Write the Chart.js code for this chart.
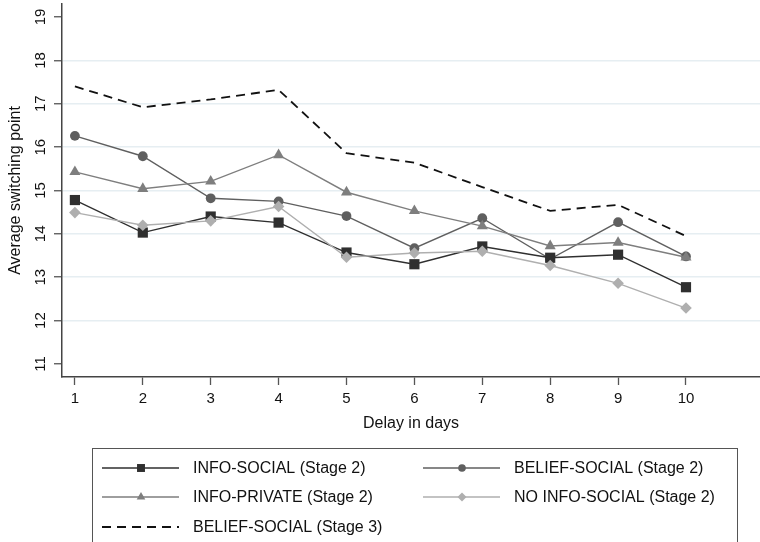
<!DOCTYPE html>
<html>
<head>
<meta charset="utf-8">
<script src="https://cdn.jsdelivr.net/npm/chart.js@4/dist/chart.umd.min.js"></script>
<style>
  html, body { margin: 0; padding: 0; background: #fff; }
  canvas { display: block; }
</style>
</head>
<body>
<canvas id="chart" width="760" height="542"></canvas>
<script>
// Delay (days) on the x axis and the tick values of both axes
const delayDays = [1, 2, 3, 4, 5, 6, 7, 8, 9, 10];
const yTickValues = [11, 12, 13, 14, 15, 16, 17, 18, 19];

// Average switching point per treatment
const infoSocialStage2   = [14.78, 14.03, 14.40, 14.26, 13.57, 13.30, 13.71, 13.45, 13.52, 12.77];
const beliefSocialStage2 = [16.26, 15.79, 14.82, 14.75, 14.41, 13.67, 14.36, 13.42, 14.27, 13.48];
const infoPrivateStage2  = [15.43, 15.04, 15.21, 15.82, 14.96, 14.53, 14.18, 13.72, 13.80, 13.46];
const noInfoSocialStage2 = [14.49, 14.20, 14.30, 14.63, 13.46, 13.56, 13.60, 13.27, 12.86, 12.29];
const beliefSocialStage3 = [17.40, 16.92, 17.10, 17.32, 15.86, 15.64, 15.08, 14.53, 14.67, 13.95];

const seriesLabels = [
  'INFO-SOCIAL (Stage 2)',
  'BELIEF-SOCIAL (Stage 2)',
  'INFO-PRIVATE (Stage 2)',
  'NO INFO-SOCIAL (Stage 2)',
  'BELIEF-SOCIAL (Stage 3)'
];

const FONT = '"Liberation Sans", Arial, Helvetica, sans-serif';

function toPoints(values) {
  return values.map((v, i) => ({ x: delayDays[i], y: v }));
}

function lineSeries(label, values, color, style, radius, drawOrder) {
  return {
    label,
    data: toPoints(values),
    borderColor: color,
    backgroundColor: color,
    pointBackgroundColor: color,
    pointBorderColor: color,
    pointBorderWidth: 0,
    pointStyle: style,
    pointRadius: radius,
    pointHoverRadius: radius,
    borderWidth: 1.4,
    tension: 0,
    fill: false,
    order: drawOrder
  };
}

const datasets = [
  lineSeries(seriesLabels[0], infoSocialStage2,   '#2f2f2f', 'rect',     7.2, 2),
  lineSeries(seriesLabels[1], beliefSocialStage2, '#5f5f5f', 'circle',   4.9, 4),
  lineSeries(seriesLabels[2], infoPrivateStage2,  '#7e7e7e', 'triangle', 6.4, 3),
  lineSeries(seriesLabels[3], noInfoSocialStage2, '#afafaf', 'rectRot',  5.8, 1),
  {
    label: seriesLabels[4],
    data: toPoints(beliefSocialStage3),
    borderColor: '#111',
    backgroundColor: '#111',
    borderWidth: 1.8,
    borderDash: [9, 6],
    pointRadius: 0,
    pointHoverRadius: 0,
    pointStyle: false,
    tension: 0,
    fill: false,
    order: 5
  }
];

// Boxed two-column key under the plot: line sample with its marker, then the label
const boxedKey = {
  id: 'boxedKey',
  afterDraw(chart) {
    const ctx = chart.ctx;
    ctx.save();
    ctx.strokeStyle = '#555';
    ctx.lineWidth = 1;
    ctx.setLineDash([]);
    ctx.strokeRect(92.5, 448.5, 645, 130);

    const slots = [[102, 468], [423, 468], [102, 497], [423, 497], [102, 527]];
    const sampleLen = 77;
    chart.data.datasets.forEach((ds, i) => {
      const [x, y] = slots[i];
      ctx.save();
      ctx.strokeStyle = ds.borderColor;
      ctx.lineWidth = ds.borderWidth;
      ctx.setLineDash(ds.borderDash || []);
      ctx.beginPath();
      ctx.moveTo(x, y);
      ctx.lineTo(x + sampleLen, y);
      ctx.stroke();
      ctx.restore();

      if (ds.pointStyle && ds.pointRadius > 0) {
        ctx.save();
        ctx.fillStyle = ds.pointBackgroundColor;
        ctx.strokeStyle = ds.pointBorderColor;
        Chart.helpers.drawPoint(ctx, {
          pointStyle: ds.pointStyle,
          radius: ds.pointRadius * 0.78,
          borderWidth: 0,
          rotation: 0
        }, x + sampleLen / 2 + 0.5, y);
        ctx.restore();
      }

      ctx.fillStyle = '#111';
      ctx.font = '16px ' + FONT;
      ctx.textBaseline = 'middle';
      ctx.textAlign = 'left';
      ctx.fillText(ds.label, x + 91, y + 1);
    });
    ctx.restore();
  }
};

// The plot box is fixed by the layout padding and the axis sizes alone
function fixAxisBox(scale, size) {
  if (scale.isHorizontal()) scale.height = size; else scale.width = size;
  scale.paddingTop = 0;
  scale.paddingBottom = 0;
  scale.paddingLeft = 0;
  scale.paddingRight = 0;
}

new Chart(document.getElementById('chart'), {
  type: 'line',
  data: { datasets },
  plugins: [boxedKey],
  options: {
    responsive: false,
    animation: false,
    devicePixelRatio: 1,
    layout: { autoPadding: false, padding: { top: 4, right: 0, bottom: 109, left: 0 } },
    plugins: {
      legend: { display: false },
      tooltip: { enabled: false }
    },
    scales: {
      x: {
        type: 'linear',
        min: 0.81,
        max: 11.09,
        afterBuildTicks: s => { s.ticks = delayDays.map(v => ({ value: v })); },
        afterFit: s => fixAxisBox(s, 56),
        grid: { drawOnChartArea: false, tickLength: 8, tickColor: '#555', tickWidth: 1.3 },
        border: { color: '#444', width: 1.5 },
        ticks: {
          color: '#111',
          font: { family: FONT, size: 15 },
          padding: 5,
          maxRotation: 0,
          autoSkip: false
        },
        title: {
          display: true,
          text: 'Delay in days',
          color: '#111',
          font: { family: FONT, size: 16 },
          padding: { top: 4, bottom: 0 }
        }
      },
      y: {
        type: 'linear',
        position: 'left',
        min: 10.7,
        max: 19.3,
        afterBuildTicks: s => { s.ticks = yTickValues.map(v => ({ value: v })); },
        afterFit: s => fixAxisBox(s, 62),
        grid: {
          color: c => (c.tick && (c.tick.value === 11 || c.tick.value === 19)) ? 'rgba(0,0,0,0)' : '#e6eef2',
          lineWidth: 1.5,
          tickLength: 8,
          tickColor: '#555',
          tickWidth: 1.3
        },
        border: { color: '#444', width: 1.5 },
        ticks: {
          color: '#111',
          font: { family: FONT, size: 15 },
          minRotation: 90,
          maxRotation: 90,
          crossAlign: 'center',
          padding: 5,
          autoSkip: false
        },
        title: {
          display: true,
          text: 'Average switching point',
          color: '#111',
          font: { family: FONT, size: 16 },
          padding: { top: 6, bottom: 0 }
        }
      }
    }
  }
});
</script>
</body>
</html>
